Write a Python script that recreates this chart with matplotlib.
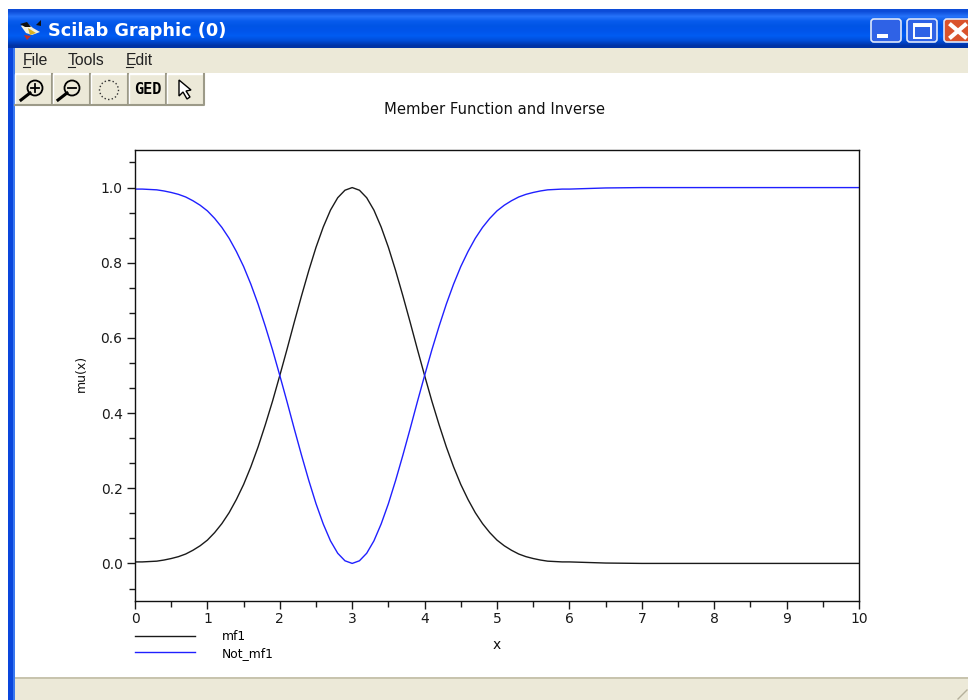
import numpy as np
import matplotlib
matplotlib.use('Agg')
import matplotlib.pyplot as plt
from matplotlib.patches import Rectangle, Circle, FancyBboxPatch, Polygon

# data
x = [0.0, 0.1, 0.2, 0.3, 0.4, 0.5, 0.6, 0.7, 0.8, 0.9,
     1.0, 1.1, 1.2, 1.3, 1.4, 1.5, 1.6, 1.7, 1.8, 1.9,
     2.0, 2.1, 2.2, 2.3, 2.4, 2.5, 2.6, 2.7, 2.8, 2.9,
     3.0, 3.1, 3.2, 3.3, 3.4, 3.5, 3.6, 3.7, 3.8, 3.9,
     4.0, 4.1, 4.2, 4.3, 4.4, 4.5, 4.6, 4.7, 4.8, 4.9,
     5.0, 5.1, 5.2, 5.3, 5.4, 5.5, 5.6, 5.7, 5.8, 5.9,
     6.0, 6.5, 7.0, 8.0, 9.0, 10.0]
mf1 = [0.004, 0.004, 0.005, 0.006, 0.009, 0.013, 0.018, 0.025, 0.035, 0.047,
       0.062, 0.082, 0.106, 0.135, 0.170, 0.210, 0.257, 0.310, 0.369, 0.432,
       0.500, 0.570, 0.642, 0.712, 0.779, 0.841, 0.895, 0.940, 0.973, 0.993,
       1.000, 0.993, 0.973, 0.940, 0.895, 0.841, 0.779, 0.712, 0.642, 0.570,
       0.500, 0.432, 0.369, 0.310, 0.257, 0.210, 0.170, 0.135, 0.106, 0.082,
       0.062, 0.047, 0.035, 0.025, 0.018, 0.013, 0.009, 0.006, 0.005, 0.004,
       0.004, 0.001, 0.0, 0.0, 0.0, 0.0]
not_mf1 = [0.996, 0.996, 0.995, 0.994, 0.991, 0.987, 0.982, 0.975, 0.965, 0.953,
           0.938, 0.918, 0.894, 0.865, 0.830, 0.790, 0.743, 0.690, 0.631, 0.568,
           0.500, 0.430, 0.358, 0.288, 0.221, 0.159, 0.105, 0.060, 0.027, 0.007,
           0.000, 0.007, 0.027, 0.060, 0.105, 0.159, 0.221, 0.288, 0.358, 0.430,
           0.500, 0.568, 0.631, 0.690, 0.743, 0.790, 0.830, 0.865, 0.894, 0.918,
           0.938, 0.953, 0.965, 0.975, 0.982, 0.987, 0.991, 0.994, 0.995, 0.996,
           0.996, 0.999, 1.0, 1.0, 1.0, 1.0]
xticks = [0, 1, 2, 3, 4, 5, 6, 7, 8, 9, 10]
yticks = [0.0, 0.2, 0.4, 0.6, 0.8, 1.0]
yminor = [-0.067, 0.067, 0.133, 0.267, 0.333, 0.467, 0.533, 0.667, 0.733, 0.867, 0.933, 1.067]

W, H = 968, 700
fig = plt.figure(figsize=(9.68, 7), dpi=100)

# window chrome in pixel coordinates
bg = fig.add_axes([0, 0, 1, 1])
bg.axis('off')

MENU = '#ECE9D8'
grad = np.array([[0.05, 0.30, 0.85], [0.15, 0.45, 0.98], [0.03, 0.36, 0.93], [0.0, 0.33, 0.90],
                 [0.0, 0.33, 0.92], [0.0, 0.36, 0.95], [0.0, 0.30, 0.85], [0.0, 0.20, 0.65]])[:, None, :]
bg.imshow(grad, extent=(8, W, 48, 9), aspect='auto', interpolation='bilinear', zorder=1)
bg.set_xlim(0, W)
bg.set_ylim(H, 0)
bg.add_patch(Rectangle((8, 48), 7, H - 48, fc='#0A46DC', ec='none', zorder=1))
bg.add_patch(Rectangle((13, 48), 2, H - 48, fc='#3A78F0', ec='none', zorder=1))
bg.add_patch(Rectangle((15, 48), W - 15, 25, fc=MENU, ec='none', zorder=1))
bg.add_patch(Rectangle((15, 677), W - 15, 23, fc=MENU, ec='none', zorder=1))
bg.add_patch(Rectangle((15, 677), W - 15, 2, fc='#C8C4AE', ec='none', zorder=2))
bg.plot([W - 10, W - 1], [699, 690], color='#B5B19C', lw=1, zorder=3)

# puffin icon
bg.add_patch(Polygon([(21, 26), (27, 23), (33, 28), (40, 32), (32, 35), (26, 33)], fc='#F4F0DC', ec='none', zorder=3))
bg.add_patch(Polygon([(20, 24), (27, 22), (31, 27), (25, 27)], fc='#101010', ec='none', zorder=3))
bg.add_patch(Polygon([(36, 25), (41, 20), (41, 26)], fc='#101010', ec='none', zorder=3))
bg.add_patch(Polygon([(28, 28), (36, 33), (30, 35)], fc='#D8B020', ec='none', zorder=4))
bg.add_patch(Polygon([(24, 35), (31, 36), (27, 40)], fc='#C03020', ec='none', zorder=3))

bg.text(48, 31.5, 'Scilab Graphic (0)', color='white', fontsize=12.8, fontweight='bold',
        family='DejaVu Sans', va='center', ha='left', zorder=5)

# window buttons
for x0, col in [(870, '#2F62E6'), (906, '#2F62E6'), (943, '#D9532C')]:
    bg.add_patch(FancyBboxPatch((x0 + 1, 19), 30, 23, boxstyle='round,pad=0,rounding_size=3',
                                fc=col, ec='#DCE6FA', lw=1.2, zorder=3))
bg.add_patch(Rectangle((877, 34), 11, 4, fc='white', ec='none', zorder=4))
bg.add_patch(Rectangle((914, 24), 17, 14, fc='none', ec='white', lw=1.4, zorder=4))
bg.add_patch(Rectangle((914, 24), 17, 3, fc='white', ec='none', zorder=4))
bg.plot([951, 965], [25, 37], color='white', lw=3, zorder=4)
bg.plot([951, 965], [37, 25], color='white', lw=3, zorder=4)

# menu
for label, px in [('File', 23), ('Tools', 68), ('Edit', 126)]:
    bg.text(px, 60.5, label, fontsize=11.3, family='Liberation Sans', color='#222222', va='center', ha='left', zorder=5)
for x0, x1 in [(23, 30), (68, 75), (126, 133)]:
    bg.plot([x0, x1], [67, 67], color='#222222', lw=0.8, zorder=5)

# toolbar buttons
for x0, x1 in [(15, 52), (53, 90), (91, 128), (129, 166), (167, 204)]:
    bg.add_patch(Rectangle((x0, 74), x1 - x0, 31, fc=MENU, ec='none', zorder=1))
    bg.plot([x0, x0, x1], [105, 74, 74], color='white', lw=1, zorder=2)
    bg.plot([x0, x1, x1], [104.5, 104.5, 74], color='#9C9A88', lw=1.5, zorder=2)
for cx, plus in [(35, True), (72, False)]:
    bg.add_patch(Circle((cx, 88), 7.5, fc='none', ec='black', lw=1.3, zorder=3))
    bg.plot([cx - 5, cx - 14], [93, 100], color='black', lw=2.2, zorder=3)
    bg.plot([cx - 4, cx + 4], [88, 88], color='black', lw=1.3, zorder=3)
    if plus:
        bg.plot([cx, cx], [84, 92], color='black', lw=1.3, zorder=3)
bg.add_patch(Circle((109, 90), 9.5, fc='none', ec='#333333', lw=1, ls=':', zorder=3))
bg.text(147.5, 90, 'GED', fontsize=11, fontweight='bold', family='DejaVu Sans Mono', va='center', ha='center', zorder=3)
bg.add_patch(Polygon([(179, 80), (179, 96), (183, 92), (187, 99), (190, 97), (186, 91), (191, 90)],
                     fc='white', ec='black', lw=1, zorder=3))

# chart
ax = fig.add_axes([135 / W, 1 - 601 / H, (859 - 135) / W, (601 - 150) / H])
ax.patch.set_alpha(0)
ax.plot(x, mf1, color='#1a1a1a', lw=1.0, label='mf1')
ax.plot(x, not_mf1, color='#2020FF', lw=1.0, label='Not_mf1')
ax.set_xlim(0, 10)
ax.set_ylim(-0.1, 1.1)
ax.set_xticks(xticks)
ax.set_xticks([t + 0.5 for t in xticks[:-1]], minor=True)
ax.set_yticks(yticks)
ax.set_yticks(yminor, minor=True)
ax.set_yticklabels([f'{t:.1f}' for t in yticks])
ax.tick_params(axis='both', which='major', length=6, width=1, labelsize=10, colors='#1a1a1a')
ax.tick_params(axis='x', which='major', pad=2)
ax.tick_params(axis='y', which='major', pad=3)
ax.tick_params(axis='both', which='minor', length=4, width=1, colors='#1a1a1a')
for s in ax.spines.values():
    s.set_linewidth(1)
    s.set_color('#111111')

fig.text(495 / W, 1 - 109 / H, 'Member Function and Inverse', fontsize=10.6, ha='center', va='center', color='#111111')
fig.text(497 / W, 1 - 645 / H, 'x', fontsize=10, ha='center', va='center', color='#111111')
fig.text(81 / W, 1 - 373 / H, 'mu(x)', fontsize=9, rotation=90, ha='center', va='center', color='#111111')

# legend under the axes
handles, labels = ax.get_legend_handles_labels()
ax.legend(handles, labels, loc='upper left', bbox_to_anchor=(135 / W, 1 - 630 / H), bbox_transform=fig.transFigure,
          frameon=False, fontsize=8.8, handlelength=4.9, handletextpad=2.2, labelspacing=0.3,
          borderpad=0, borderaxespad=0)

fig.savefig('out.png', dpi=100)
